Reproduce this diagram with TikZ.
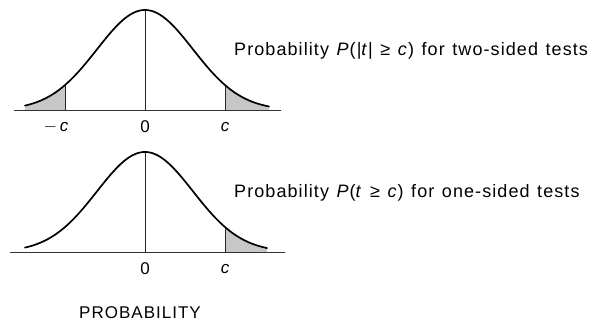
\documentclass[tikz,border=0pt]{standalone}
\usepackage{fontspec}
\setmainfont{Liberation Sans}
\newfontfamily\spacedfont[LetterSpace=6, WordSpace=1.25]{Liberation Sans}
\usetikzlibrary{positioning}
\tikzset{
  % --- Kurven --------------------------------------------------
  curve/.style={line width=1.7pt, line cap=round},
  axisline/.style={line width=0.7pt, black!80},
  cutline/.style={line width=0.7pt, black!85},
  tail/.style={fill=black!22},
  % --- Beschriftung --------------------------------------------
  ticklbl/.style={font=\fontsize{17}{19}\selectfont, inner sep=1pt},
  caption/.style={font=\spacedfont\fontsize{18}{21}\selectfont, anchor=west, inner sep=0pt},
  heading/.style={font=\spacedfont\fontsize{17}{19}\selectfont, inner sep=0pt}
}
\newcommand{\gauss}[1]{100*exp(-((#1)/48)^2/2)}
\begin{document}
\begin{tikzpicture}[x=1pt, y=-1pt]
  \useasboundingbox (0,0) rectangle (595,328);

  % --- Oben: zweiseitig ----------------------------------------
  \fill[tail] (25,110) -- plot[domain=-120:-80, samples=30] ({145+\x},{110-\gauss{\x}}) -- (65,110) -- cycle;
  \fill[tail] (225,110) -- plot[domain=80:124, samples=30] ({145+\x},{110-\gauss{\x}}) -- (269,110) -- cycle;
  \draw[axisline] (14,110) -- (281,110);
  \draw[cutline] (145,110) -- (145,10);
  \draw[cutline] (65,110) -- (65,{110-\gauss{-80}});
  \draw[cutline] (225,110) -- (225,{110-\gauss{80}});
  \draw[curve] plot[domain=-120:124, samples=120] ({145+\x},{110-\gauss{\x}});
  \node[ticklbl] (mc1) at (56,127) {$-$\,\textit{c}};
  \node[ticklbl] (zero1) at (145,127) {0};
  \node[ticklbl] (c1) at (225,127) {\textit{c}};
  \node[caption] (twoside) at (234,51) {Probability \textit{P}(|\textit{t}| ≥ \textit{c}) for two-sided tests};

  % --- Unten: einseitig ----------------------------------------
  \fill[tail] (225,252) -- plot[domain=80:122, samples=30] ({145+\x},{252-\gauss{\x}}) -- (267,252) -- cycle;
  \draw[axisline] (10,252) -- (285,252);
  \draw[cutline] (145,252) -- (145,152);
  \draw[cutline] (225,252) -- (225,{252-\gauss{80}});
  \draw[curve] plot[domain=-120:122, samples=120] ({145+\x},{252-\gauss{\x}});
  \node[ticklbl] (zero2) at (145,269) {0};
  \node[ticklbl] (c2) at (225,269) {\textit{c}};
  \node[caption] (oneside) at (234,193) {Probability \textit{P}(\textit{t} ≥ \textit{c}) for one-sided tests};

  \node[heading] (title) at (140,313) {PROBABILITY};
\end{tikzpicture}
\end{document}
